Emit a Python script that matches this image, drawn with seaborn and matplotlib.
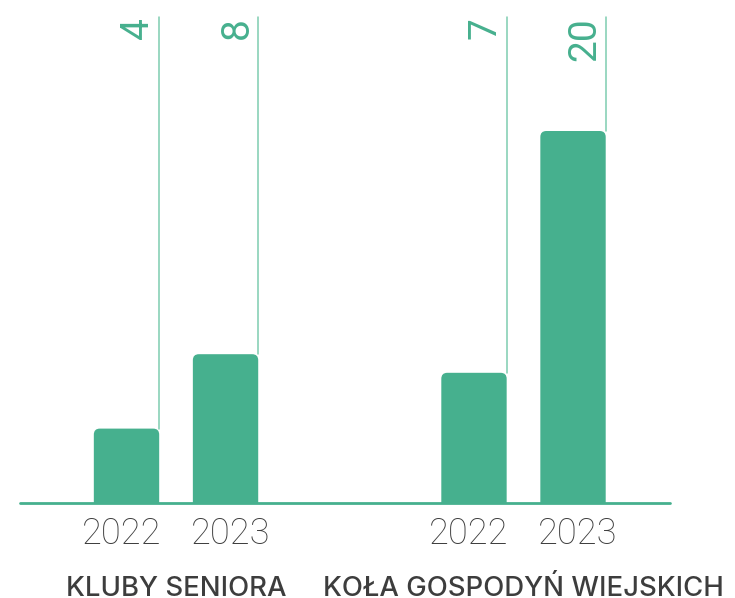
import matplotlib
matplotlib.use("Agg")
import matplotlib.pyplot as plt
from matplotlib.patches import FancyBboxPatch, Rectangle
import seaborn as sns
import pandas as pd

groups = ["KLUBY SENIORA", "KLUBY SENIORA", "KOŁA GOSPODYŃ WIEJSKICH", "KOŁA GOSPODYŃ WIEJSKICH"]
years = ["2022", "2023", "2022", "2023"]
values = [4, 8, 7, 20]

BAR = "#46B08E"
LINE = "#7FCDB0"
TXT = "#3d3d3d"

df = pd.DataFrame({"group": groups, "year": years, "value": values})

sns.set_theme(style="white")
plt.rcParams["font.family"] = ["Roboto", "DejaVu Sans"]

fig = plt.figure(figsize=(7.35, 5.98), dpi=100)
W, H = 735, 598
ax = fig.add_axes([20 / W, 1 - 503 / H, 650 / W, (503 - 17) / H])

sns.barplot(data=df, x="group", y="value", hue="year", palette=[BAR, BAR],
            width=0.57, gap=0.34, dodge=True, legend=False, ax=ax, saturation=1)

ymax = 486 / 18.6
ax.set_ylim(0, ymax)
ax.set_xlim(-0.449, 1.4216)
for s in ax.spines.values():
    s.set_visible(False)
ax.set_yticks([])
ax.set_ylabel("")
ax.set_xlabel("")

# convert bars to rounded-top bars
aspect = (1 / 18.6) / (1 / 347.5)
r = 6 / 347.5
bars = [p for p in ax.patches if isinstance(p, Rectangle) and p.get_height() > 0]
bars.sort(key=lambda p: p.get_x())
for i, (p, yr, v) in enumerate(zip(bars, years, values)):
    x0, w, h = p.get_x(), p.get_width(), p.get_height()
    p.set_visible(False)
    ax.add_patch(FancyBboxPatch((x0, -1), w, h + 1,
                                boxstyle=f"round,pad=0,rounding_size={r}",
                                mutation_aspect=aspect, fc=BAR, ec="none", zorder=2))
    xr = x0 + w
    ax.plot([xr, xr], [h, ymax], color=LINE, lw=1.1, zorder=1, clip_on=False)
    ax.annotate(str(v), (xr, ymax), xytext=(-2, 0), textcoords="offset points",
                rotation=90, ha="right", va="top", color=BAR, fontsize=28,
                fontweight="normal")
    dx = -3.5 if i % 2 == 0 else 3.5
    ax.annotate(yr, (x0 + w / 2, 0), xytext=(dx, -9), textcoords="offset points",
                ha="center", va="top", color=TXT, fontsize=26, fontweight="light",
                annotation_clip=False)

ax.axhline(0, color=BAR, lw=2, zorder=3, clip_on=False)

# group labels, baseline-aligned below the year labels
ticks = ax.get_xticks()
labels = [t.get_text() for t in ax.get_xticklabels()]
ax.set_xticks([])
for xt, lab in zip(ticks, labels):
    ax.annotate(lab, (xt, 0), xytext=(0, -67), textcoords="offset points",
                ha="center", va="baseline", color=TXT, fontsize=19.8,
                fontweight="medium", family=["Inter", "DejaVu Sans"],
                annotation_clip=False)

fig.savefig("out.png", dpi=100)
